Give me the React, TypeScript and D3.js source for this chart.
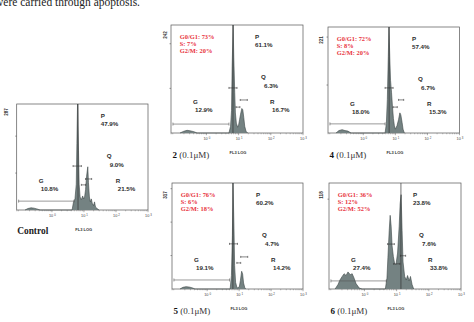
import React from 'react';
import * as d3 from 'd3';

const headerText = 'were carried through apoptosis.';
const sampleIds = ['Control', '2', '4', '5', '6'];
const doseLabel = ' (0.1μM)';
const yMaxCounts = [287, 242, 221, 317, 118];
const pctP = ['47.9%', '61.1%', '57.4%', '60.2%', '23.8%'];
const pctQ = ['9.0%', '6.3%', '6.7%', '4.7%', '7.6%'];
const pctR = ['21.5%', '16.7%', '15.3%', '14.2%', '33.8%'];
const pctG = ['10.8%', '12.9%', '18.0%', '19.1%', '27.4%'];
const cycleG0G1 = [null, 73, 72, 76, 36];
const cycleS = [null, 7, 8, 6, 12];
const cycleG2M = [null, 20, 20, 18, 52];
const xTickDecades = [0, 1, 2, 3];
const yTickValues = [[100, 200], [100, 200], [100, 200], [100, 200, 300], [100]];

// histograms: [log10 FL3, count]
const histControl: [number, number][] = [
  [-0.84, 0], [-0.75, 4], [-0.65, 6], [-0.56, 5], [-0.47, 3], [-0.37, 0],
  [0.63, 0], [0.67, 20], [0.72, 30], [0.76, 70], [0.78, 180], [0.8, 287], [0.83, 160], [0.85, 70],
  [0.88, 35], [0.92, 28], [0.96, 38], [0.99, 30], [1.02, 35], [1.05, 55], [1.08, 90], [1.12, 117],
  [1.14, 75], [1.17, 35], [1.2, 22], [1.23, 30], [1.26, 18], [1.3, 12], [1.33, 22], [1.36, 8],
  [1.41, 4], [1.47, 0],
];
const hist2: [number, number][] = [
  [-0.82, 0], [-0.7, 4], [-0.6, 6], [-0.51, 5], [-0.39, 3], [-0.29, 0],
  [0.7, 0], [0.75, 15], [0.78, 50], [0.8, 150], [0.83, 242], [0.85, 170], [0.88, 90], [0.9, 45],
  [0.93, 22], [0.97, 13], [1.0, 18], [1.03, 30], [1.06, 42], [1.1, 55], [1.13, 52], [1.16, 35],
  [1.19, 15], [1.23, 4], [1.28, 0],
];
const hist4: [number, number][] = [
  [-0.85, 0], [-0.76, 5], [-0.66, 7], [-0.57, 5], [-0.48, 4], [-0.38, 0],
  [0.68, 0], [0.72, 20], [0.75, 70], [0.78, 160], [0.8, 221], [0.83, 150], [0.85, 110], [0.88, 85],
  [0.91, 55], [0.94, 30], [0.97, 15], [1.0, 8], [1.05, 15], [1.1, 28], [1.14, 42], [1.17, 38],
  [1.21, 22], [1.24, 8], [1.28, 0],
];
const hist5: [number, number][] = [
  [-0.85, 0], [-0.76, 5], [-0.66, 7], [-0.57, 6], [-0.48, 4], [-0.38, 0],
  [0.72, 0], [0.76, 40], [0.79, 160], [0.81, 317], [0.84, 180], [0.86, 70], [0.89, 20], [0.93, 5],
  [0.96, 3], [1.01, 8], [1.04, 25], [1.08, 53], [1.11, 45], [1.14, 18], [1.18, 3], [1.21, 0],
];
const hist6: [number, number][] = [
  [-0.91, 0], [-0.82, 5], [-0.76, 10], [-0.69, 14], [-0.63, 17], [-0.57, 15], [-0.51, 19],
  [-0.44, 16], [-0.38, 17], [-0.32, 12], [-0.26, 6], [-0.16, 1], [-0.07, 0],
  [0.65, 0], [0.7, 12], [0.73, 35], [0.77, 65], [0.8, 82], [0.83, 70], [0.86, 48], [0.9, 36],
  [0.94, 28], [0.98, 27], [1.03, 40], [1.08, 70], [1.11, 95], [1.14, 105], [1.17, 65], [1.2, 30],
  [1.25, 14], [1.3, 10], [1.34, 15], [1.39, 9], [1.43, 14], [1.48, 5], [1.53, 0],
];
const histograms = [histControl, hist2, hist4, hist5, hist6];

// gates: position of the vertical gate, and marker bars [from, to, level]
const gatePos = [0.815, 0.825, 0.806, 0.806, 1.134];
const gMarker: [number, number, number][] = [
  [-1.04, 0.69, 24], [-1.04, 0.7, 20], [-1.04, 0.68, 19], [-1.04, 0.7, 27], [-1.04, 0.68, 9],
];
const pMarker: [number, number, number][] = [
  [0.66, 0.92, 119], [0.7, 0.95, 101], [0.68, 0.93, 94], [0.7, 0.95, 135], [0.72, 0.93, 50],
];
const sMarker: [number, number, number][] = [
  [0.92, 1.05, 68], [0.92, 1.04, 58], [0.93, 1.06, 54], [0.93, 1.05, 78], [0.91, 1.1, 28],
];
const g2Marker: [number, number, number][] = [
  [1.05, 1.24, 84], [1.05, 1.27, 74], [1.1, 1.26, 69], [1.05, 1.27, 96], [1.12, 1.28, 37],
];

// layout (pixel boxes)
const boxes = [
  { l: 16.7, r: 148, t: 104, b: 210, yl: -10.7, yly: 8 },
  { l: 171, r: 303, t: 25, b: 133, yl: -6, yly: 10 },
  { l: 328, r: 459.5, t: 27, b: 133, yl: -7, yly: 13 },
  { l: 172, r: 303, t: 183, b: 289, yl: -7, yly: 12 },
  { l: 329, r: 461, t: 183, b: 289, yl: -8, yly: 12 },
];

const SANS = 'Liberation Sans, Arial, sans-serif';
const SERIF = 'Liberation Serif, Times New Roman, serif';

function Marker({ x, y, m, color = '#333', cap = 1.5 }: any) {
  const x1 = x(m[0]);
  const x2 = x(m[1]);
  const yy = y(m[2]);
  return (
    <g stroke={color} strokeWidth={0.6}>
      <line x1={x1} x2={x2} y1={yy} y2={yy} />
      <line x1={x1} x2={x1} y1={yy - cap} y2={yy + cap} />
      <line x1={x2} x2={x2} y1={yy - cap} y2={yy + cap} />
    </g>
  );
}

function Panel({ i }: { i: number }) {
  const bx = boxes[i];
  const x = d3.scaleLinear().domain([-1.1, 3]).range([bx.l, bx.r]);
  const y = d3.scaleLinear().domain([0, yMaxCounts[i]]).range([bx.b, bx.t]);
  const area = d3
    .area<[number, number]>()
    .x((d) => x(d[0]))
    .y0(bx.b)
    .y1((d) => y(d[1]))
    .curve(d3.curveLinear);
  const line = d3
    .line<[number, number]>()
    .x((d) => x(d[0]))
    .y((d) => y(d[1]));
  const minor: number[] = [];
  for (let e = -2; e <= 2; e++) {
    for (let k = 2; k <= 9; k++) {
      const v = e + Math.log10(k);
      if (v > -1.1 && v < 3) minor.push(v);
    }
  }
  const w = bx.r - bx.l;
  const pctStyle = { fontFamily: SANS, fontSize: 6.2, fill: '#2e2e2e', fontWeight: 700 } as any;
  const redStyle = { fontFamily: SERIF, fontSize: 6.4, fill: '#e8323c', fontWeight: 700 } as any;
  return (
    <g>
      <rect x={bx.l} y={bx.t} width={w} height={bx.b - bx.t} fill="none" stroke="#555" strokeWidth={0.7} />
      <path d={area(histograms[i]) || ''} fill="#748282" stroke="none" />
      <path d={line(histograms[i]) || ''} fill="none" stroke="#3c4646" strokeWidth={0.6} />
      <line x1={x(gatePos[i])} x2={x(gatePos[i])} y1={bx.t} y2={bx.b} stroke="#333" strokeWidth={0.7} />
      <Marker x={x} y={y} m={gMarker[i]} color="#555" />
      <Marker x={x} y={y} m={pMarker[i]} cap={1} />
      <Marker x={x} y={y} m={sMarker[i]} cap={1} />
      <Marker x={x} y={y} m={g2Marker[i]} cap={1} />
      {yTickValues[i].map((v) => (
        <line key={v} x1={bx.l - 1.5} x2={bx.l} y1={y(v)} y2={y(v)} stroke="#555" strokeWidth={0.6} />
      ))}
      {minor.map((v, k) => (
        <line key={'m' + k} x1={x(v)} x2={x(v)} y1={bx.b} y2={bx.b + 1.3} stroke="#666" strokeWidth={0.4} />
      ))}
      {xTickDecades.map((v) => (
        <g key={v}>
          <line x1={x(v)} x2={x(v)} y1={bx.b} y2={bx.b + 2.2} stroke="#555" strokeWidth={0.5} />
          <text x={x(v) - 0.8} y={bx.b + 7.3} fontFamily={SANS} fontSize={3.8} fill="#444" textAnchor="middle">
            10
          </text>
          <text x={x(v) + 2.3} y={bx.b + 5.8} fontFamily={SANS} fontSize={2.8} fill="#444">
            {v}
          </text>
        </g>
      ))}
      <text
        transform={`translate(${bx.l + bx.yl + 1.7},${bx.t + bx.yly}) rotate(-90)`}
        fontFamily={SANS}
        fontSize={4.6}
        fontWeight={700}
        fill="#333"
        textAnchor="middle"
      >
        {yMaxCounts[i]}
      </text>
      <text x={bx.l + 84} y={bx.t + 13.7} style={pctStyle}>P</text>
      <text x={bx.l + 84} y={bx.t + 21.7} style={pctStyle}>{pctP[i]}</text>
      <text x={bx.l + 90} y={bx.t + 54.2} style={pctStyle}>Q</text>
      <text x={bx.l + 93} y={bx.t + 62.7} style={pctStyle}>{pctQ[i]}</text>
      <text x={bx.l + 99} y={bx.t + 79.2} style={pctStyle}>R</text>
      <text x={bx.l + 101} y={bx.t + 87.2} style={pctStyle}>{pctR[i]}</text>
      <text x={bx.l + 22} y={bx.t + 78.7} style={pctStyle}>G</text>
      <text x={bx.l + 24} y={bx.t + 87.2} style={pctStyle}>{pctG[i]}</text>
      {cycleG0G1[i] !== null && (
        <g>
          <text x={bx.l + 8.8} y={bx.t + 13.8} style={redStyle}>{`G0/G1: ${cycleG0G1[i]}%`}</text>
          <text x={bx.l + 8.8} y={bx.t + 21.1} style={redStyle}>{`S: ${cycleS[i]}%`}</text>
          <text x={bx.l + 8.8} y={bx.t + 28.4} style={redStyle}>{`G2/M: ${cycleG2M[i]}%`}</text>
        </g>
      )}
      <text x={bx.l + 67} y={bx.b + 21} fontFamily={SANS} fontSize={4} fontWeight={700} fill="#333" textAnchor="middle">
        FL3 LOG
      </text>
      {i === 0 ? (
        <text x={bx.l + 0.5} y={bx.b + 23.5} fontFamily={SERIF} fontSize={9.4} fontWeight={700} fill="#222">
          {sampleIds[i]}
        </text>
      ) : (
        <text x={bx.l + 1.5} y={bx.b + 25} fontFamily={SERIF} fontSize={9} fill="#333">
          <tspan fontWeight={700} fill="#111">{sampleIds[i]}</tspan>
          <tspan>{doseLabel}</tspan>
        </text>
      )}
    </g>
  );
}

export default function App() {
  return (
    <svg
      width={474}
      height={322}
      viewBox="0 0 474 322"
      style={{ position: 'absolute', left: 0, top: 0, background: '#fff' }}
    >
      <rect x={0} y={0} width={474} height={322} fill="#fff" />
      <text x={-5} y={5.5} fontFamily={SERIF} fontSize={11.5} fill="#222">
        {headerText}
      </text>
      {boxes.map((_, i) => (
        <Panel key={i} i={i} />
      ))}
    </svg>
  );
}
